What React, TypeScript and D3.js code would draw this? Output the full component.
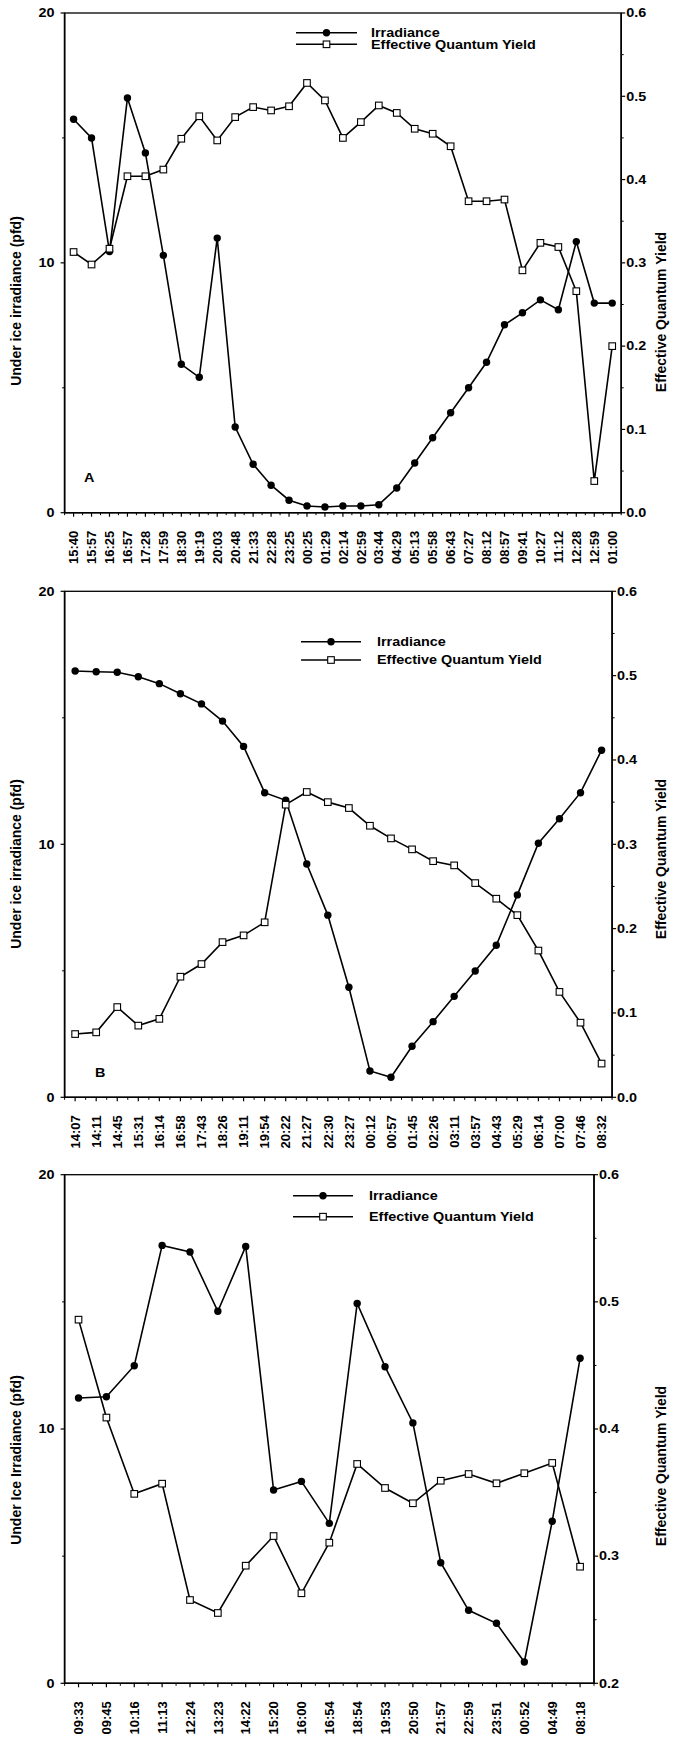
import React from "react";
import * as d3 from "d3";

// ---- Panel A: sampling times, irradiance (pfd) and effective quantum yield ----
const timesA = ["15:40","15:57","16:25","16:57","17:28","17:59","18:30","19:19","20:03","20:48","21:33","22:28","23:25","00:25","01:29","02:14","02:59","03:44","04:29","05:13","05:58","06:43","07:27","08:12","08:57","09:41","10:27","11:12","12:28","12:59","01:00"];
const irradianceA = [15.75,15.0,10.45,16.6,14.4,10.3,5.94,5.42,10.99,3.43,1.94,1.10,0.50,0.27,0.23,0.27,0.27,0.32,0.99,1.99,3.0,4.0,5.0,6.02,7.52,8.0,8.52,8.12,10.85,8.39,8.39];
const yieldA = [0.313,0.298,0.317,0.404,0.404,0.412,0.449,0.476,0.447,0.475,0.487,0.483,0.488,0.516,0.495,0.450,0.469,0.489,0.480,0.461,0.455,0.440,0.374,0.374,0.376,0.291,0.324,0.319,0.266,0.038,0.200];

// ---- Panel B ----
const timesB = ["14:07","14:11","14:45","15:31","16:14","16:58","17:43","18:26","19:11","19:54","20:22","21:27","22:30","23:27","00:12","00:57","01:45","02:26","03:11","03:57","04:43","05:29","06:14","07:00","07:46","08:32"];
const irradianceB = [16.85,16.82,16.8,16.62,16.35,15.95,15.55,14.87,13.87,12.04,11.74,9.22,7.2,4.35,1.04,0.79,2.02,2.99,3.99,4.99,6.01,8.0,10.04,11.01,12.04,13.72];
const yieldB = [0.075,0.077,0.107,0.085,0.093,0.143,0.158,0.184,0.192,0.2075,0.347,0.362,0.350,0.343,0.322,0.307,0.294,0.280,0.275,0.254,0.2355,0.216,0.174,0.125,0.0885,0.040];

// ---- Panel C ----
const timesC = ["09:33","09:45","10:16","11:13","12:24","13:23","14:22","15:20","16:00","16:54","18:54","19:53","20:50","21:57","22:59","23:51","00:52","04:49","08:18"];
const irradianceC = [11.22,11.27,12.49,17.22,16.96,14.63,17.18,7.60,7.94,6.29,14.94,12.45,10.24,4.74,2.87,2.36,0.84,6.37,12.78];
const yieldC = [0.486,0.409,0.349,0.357,0.2655,0.2553,0.2925,0.3158,0.2708,0.3106,0.3725,0.3536,0.3416,0.3593,0.3646,0.3573,0.3652,0.3733,0.2917];

// axis ticks
const irradianceTicks = [0, 10, 20];
const irradianceMinor = [5, 15];
const yieldTicksFull = [0, 0.1, 0.2, 0.3, 0.4, 0.5, 0.6];
const yieldTicksUpper = [0.2, 0.3, 0.4, 0.5, 0.6];

const seriesNames = ["Irradiance", "Effective Quantum Yield"];

const FONT = "'Liberation Sans', Arial, Helvetica, sans-serif";
const SX = 1.2; // horizontal widening of upright text

type PanelProps = {
  times: string[];
  irr: number[];
  yld: number[];
  yDomain: [number, number];
  yTicks: number[];
  box: { left: number; right: number; top: number; bottom: number };
  legend: { x0: number; x1: number; textX: number; y1: number; y2: number };
  letter?: { text: string; x: number; y: number };
  leftTitle: string;
  leftTitleY: number;
  rightTitleY: number;
};

function Panel(p: PanelProps) {
  const { left, right, top, bottom } = p.box;
  const x = d3.scalePoint<string>().domain(p.times).range([left, right]).padding(0.5);
  const yL = d3.scaleLinear().domain([0, 20]).range([bottom, top]);
  const yR = d3.scaleLinear().domain(p.yDomain).range([bottom, top]);
  const step = x.step();

  const lineL = d3.line<number>().x((_, i) => x(p.times[i])!).y((d) => yL(d));
  const lineR = d3.line<number>().x((_, i) => x(p.times[i])!).y((d) => yR(d));

  const rMinor: number[] = [];
  for (let v = p.yDomain[0] + 0.05; v < p.yDomain[1]; v += 0.1) rMinor.push(v);

  const edges = d3.range(p.times.length + 1).map((i) => left + i * step);
  const sq = 6.6;
  const lg = p.legend;
  const lgMid = (lg.x0 + lg.x1) / 2;

  return (
    <g fontFamily={FONT} fontWeight="bold" fill="#000">
      {/* frame */}
      <rect x={left} y={top} width={right - left} height={bottom - top} fill="none" stroke="#000" strokeWidth={1.3} />
      <line x1={left} x2={left} y1={top} y2={bottom} stroke="#000" strokeWidth={1.6} />
      <line x1={right} x2={right} y1={top} y2={bottom} stroke="#000" strokeWidth={1.6} />
      <line x1={left} x2={right} y1={bottom} y2={bottom} stroke="#000" strokeWidth={1.6} />

      {/* left axis */}
      {irradianceTicks.map((t) => (
        <g key={"lt" + t}>
          <line x1={left - 4} x2={left} y1={yL(t)} y2={yL(t)} stroke="#000" strokeWidth={1.2} />
          <text transform={`translate(${left - 10},${yL(t)}) scale(${SX},1)`} textAnchor="end" dy="0.36em" fontSize={12}>
            {t}
          </text>
        </g>
      ))}
      {irradianceMinor.map((t) => (
        <line key={"lm" + t} x1={left - 2.5} x2={left} y1={yL(t)} y2={yL(t)} stroke="#000" strokeWidth={1} />
      ))}

      {/* right axis */}
      {p.yTicks.map((t) => (
        <g key={"rt" + t}>
          <line x1={right} x2={right + 4} y1={yR(t)} y2={yR(t)} stroke="#000" strokeWidth={1.2} />
          <text transform={`translate(${right + 5},${yR(t)}) scale(${SX},1)`} textAnchor="start" dy="0.36em" fontSize={12}>
            {d3.format(".1f")(t)}
          </text>
        </g>
      ))}
      {rMinor.map((t, i) => (
        <line key={"rm" + i} x1={right} x2={right + 2.5} y1={yR(t)} y2={yR(t)} stroke="#000" strokeWidth={1} />
      ))}

      {/* bottom axis */}
      {edges.map((e, i) => (
        <line key={"xm" + i} x1={e} x2={e} y1={bottom} y2={bottom + 2.5} stroke="#000" strokeWidth={1} />
      ))}
      {p.times.map((t, i) => (
        <g key={"xt" + i}>
          <line x1={x(t)} x2={x(t)} y1={bottom} y2={bottom + 4} stroke="#000" strokeWidth={1.2} />
          <text transform={`translate(${x(t)},${bottom + 18}) rotate(-90)`} textAnchor="end" dy="0.36em" fontSize={13}>
            {t}
          </text>
        </g>
      ))}

      {/* axis titles */}
      <text transform={`translate(21,${p.leftTitleY}) rotate(-90)`} textAnchor="middle" fontSize={14}>
        {p.leftTitle}
      </text>
      <text transform={`translate(666,${p.rightTitleY}) rotate(-90)`} textAnchor="middle" fontSize={14}>
        Effective Quantum Yield
      </text>

      {/* series */}
      <path d={lineL(p.irr)!} fill="none" stroke="#000" strokeWidth={1.6} />
      {p.irr.map((v, i) => (
        <circle key={"c" + i} cx={x(p.times[i])} cy={yL(v)} r={3.7} fill="#000" />
      ))}
      <path d={lineR(p.yld)!} fill="none" stroke="#000" strokeWidth={1.6} />
      {p.yld.map((v, i) => (
        <rect key={"s" + i} x={x(p.times[i])! - sq / 2} y={yR(v) - sq / 2} width={sq} height={sq} fill="#fff" stroke="#000" strokeWidth={1.1} />
      ))}

      {/* legend */}
      <line x1={lg.x0} x2={lg.x1} y1={lg.y1} y2={lg.y1} stroke="#000" strokeWidth={1.6} />
      <circle cx={lgMid} cy={lg.y1} r={3.7} fill="#000" />
      <line x1={lg.x0} x2={lg.x1} y1={lg.y2} y2={lg.y2} stroke="#000" strokeWidth={1.6} />
      <rect x={lgMid - sq / 2} y={lg.y2 - sq / 2} width={sq} height={sq} fill="#fff" stroke="#000" strokeWidth={1.1} />
      <text transform={`translate(${lg.textX},${lg.y1}) scale(${SX},1)`} dy="0.36em" fontSize={12}>
        {seriesNames[0]}
      </text>
      <text transform={`translate(${lg.textX},${lg.y2}) scale(${SX},1)`} dy="0.36em" fontSize={12}>
        {seriesNames[1]}
      </text>

      {p.letter && (
        <text transform={`translate(${p.letter.x},${p.letter.y}) scale(${SX},1)`} fontSize={12}>
          {p.letter.text}
        </text>
      )}
    </g>
  );
}

export default function App() {
  return (
    <svg
      width={675}
      height={1748}
      viewBox="0 0 675 1748"
      style={{ position: "absolute", left: 0, top: 0, background: "#fff" }}
    >
      <rect width={675} height={1748} fill="#fff" />
      <Panel
        times={timesA}
        irr={irradianceA}
        yld={yieldA}
        yDomain={[0, 0.6]}
        yTicks={yieldTicksFull}
        box={{ left: 64.6, right: 621.2, top: 13, bottom: 512.7 }}
        legend={{ x0: 296, x1: 357, textX: 371, y1: 32.7, y2: 44.3 }}
        letter={{ text: "A", x: 84, y: 482 }}
        leftTitle="Under ice irradiance (pfd)"
        leftTitleY={301}
        rightTitleY={312}
      />
      <Panel
        times={timesB}
        irr={irradianceB}
        yld={yieldB}
        yDomain={[0, 0.6]}
        yTicks={yieldTicksFull}
        box={{ left: 64.6, right: 612.1, top: 591.3, bottom: 1097.3 }}
        legend={{ x0: 301, x1: 361, textX: 377, y1: 641.7, y2: 660 }}
        letter={{ text: "B", x: 95, y: 1077 }}
        leftTitle="Under ice irradiance (pfd)"
        leftTitleY={864}
        rightTitleY={859}
      />
      <Panel
        times={timesC}
        irr={irradianceC}
        yld={yieldC}
        yDomain={[0.2, 0.6]}
        yTicks={yieldTicksUpper}
        box={{ left: 64.6, right: 594, top: 1174.7, bottom: 1683.3 }}
        legend={{ x0: 293, x1: 353, textX: 369, y1: 1195.7, y2: 1216.7 }}
        leftTitle="Under Ice Irradiance (pfd)"
        leftTitleY={1460}
        rightTitleY={1466}
      />
    </svg>
  );
}
